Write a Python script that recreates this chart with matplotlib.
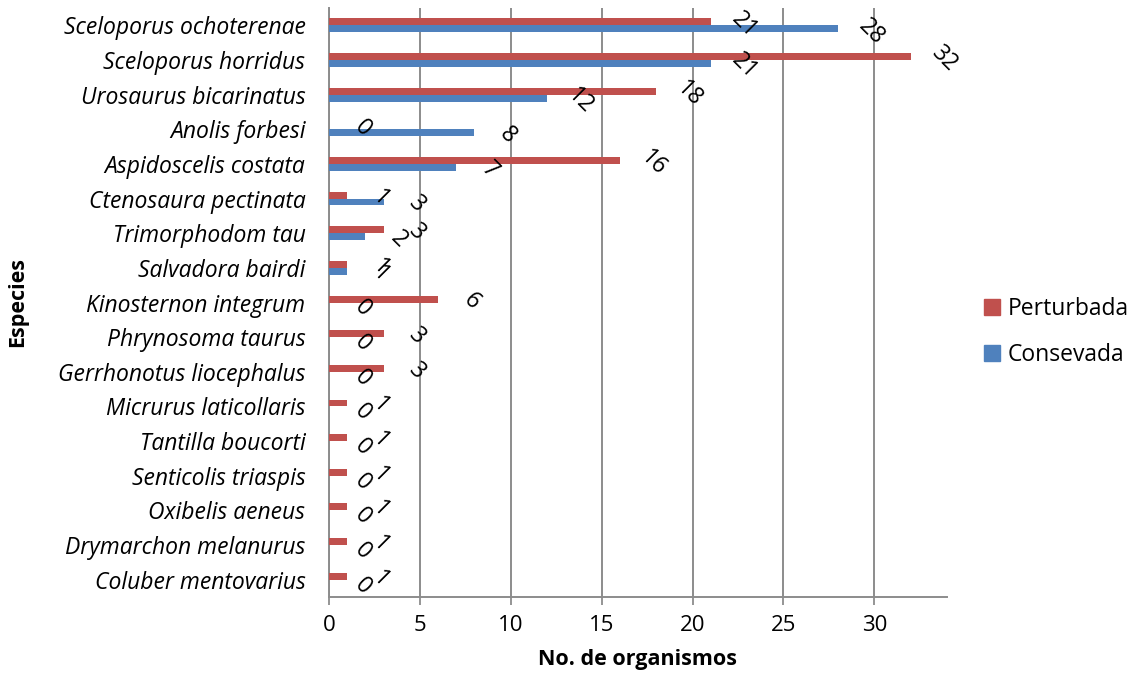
import matplotlib
matplotlib.use("Agg")
import matplotlib.pyplot as plt
from matplotlib.patches import Patch
import numpy as np

species = ["Sceloporus ochoterenae", "Sceloporus horridus", "Urosaurus bicarinatus",
           "Anolis forbesi", "Aspidoscelis costata", "Ctenosaura pectinata",
           "Trimorphodom tau", "Salvadora bairdi", "Kinosternon integrum",
           "Phrynosoma taurus", "Gerrhonotus liocephalus", "Micrurus laticollaris",
           "Tantilla boucorti", "Senticolis triaspis", "Oxibelis aeneus",
           "Drymarchon melanurus", "Coluber mentovarius"]
perturbada = [21, 32, 18, 0, 16, 1, 3, 1, 6, 3, 3, 1, 1, 1, 1, 1, 1]
consevada = [28, 21, 12, 8, 7, 3, 2, 1, 0, 0, 0, 0, 0, 0, 0, 0, 0]
xticks = [0, 5, 10, 15, 20, 25, 30]

RED = "#C0504D"
BLUE = "#4F81BD"
GRID = "#8C8C8C"
FONT = "Open Sans"

plt.rcParams['font.family'] = [FONT, 'DejaVu Sans']

fig = plt.figure(figsize=(11.31, 6.73), dpi=100)
ax = fig.add_axes([329/1131, 1-597/673, (947-329)/1131, (597-8)/673])

y = np.arange(len(species))
h = 0.2
ax.barh(y - h/2, perturbada, height=h, color=RED, zorder=3)
ax.barh(y + h/2, consevada, height=h, color=BLUE, zorder=3)

for yi, v in zip(y - h/2, perturbada):
    ax.annotate(str(v), (v, yi), xytext=(24, -2), textcoords='offset points',
                ha='center', va='center', rotation=-45, fontsize=16.5, zorder=4)
for yi, v in zip(y + h/2, consevada):
    ax.annotate(str(v), (v, yi), xytext=(24, -2), textcoords='offset points',
                ha='center', va='center', rotation=-45, fontsize=16.5, zorder=4)

ax.set_xlim(0, 34)
ax.set_ylim(len(species) - 0.5, -0.5)
ax.set_xticks(xticks)
ax.set_yticks(y)
ax.set_yticklabels(species, fontstyle='italic', fontsize=16.5)
ax.tick_params(axis='x', labelsize=16, length=6, width=1.3, color=GRID, direction='out', pad=7)
ax.tick_params(axis='y', length=0, pad=17)
ax.grid(axis='x', color=GRID, linewidth=1.4, zorder=0)
ax.grid(axis='y', visible=False)
for s in ['top', 'right']:
    ax.spines[s].set_visible(False)
for s in ['left', 'bottom']:
    ax.spines[s].set_color(GRID)
    ax.spines[s].set_linewidth(1.4)

fig.text(638/1131, 1-660/673, "No. de organismos", ha='center', va='center',
         fontsize=15.5, fontweight='bold')
fig.text(18/1131, 1-302/673, "Especies", ha='center', va='center',
         fontsize=15.5, fontweight='bold', rotation=90)

handles = [Patch(color=RED, label="Perturbada"), Patch(color=BLUE, label="Consevada")]
fig.legend(handles=handles, loc='center left', bbox_to_anchor=(963/1131, 1-332/673),
           frameon=False, fontsize=16.5, handlelength=0.7, handleheight=0.7,
           handletextpad=0.35, labelspacing=1.0)

fig.savefig("out.png", dpi=100)
